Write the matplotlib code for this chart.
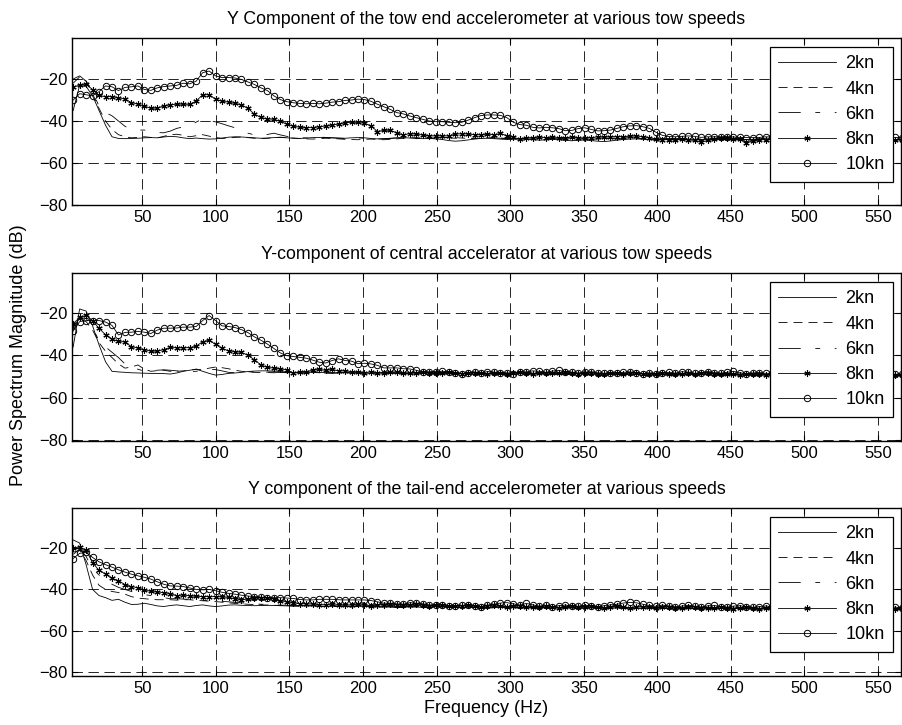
import numpy as np
import matplotlib
matplotlib.use("Agg")
import matplotlib.pyplot as plt

plt.rcParams['font.family'] = ['Liberation Sans', 'DejaVu Sans']
plt.rcParams['font.size'] = 12

# frequency bins (Hz), spacing
freq = 3.0 + 4.4 * np.arange(129)

# --- tow end accelerometer (dB) ---
tow_2kn = [
    -35, -23, -23.5, -28, -35, -42, -47.5, -48.3, -48.4, -48.3,
    -48.2, -48, -47.9, -48, -47.6, -47.3, -47.5, -48, -48.4, -48.1,
    -48.4, -48.6, -48.5, -48.1, -47.7, -47.5, -47.6, -47.8, -48, -48.2,
    -48.1, -47.9, -47.8, -48, -48.2, -48.3, -48.1, -47.9, -47.8, -47.9,
    -48, -48.1, -48.2, -48, -47.9, -48, -48.3, -48.5, -48.4, -48.2,
    -48, -47.9, -48.1, -48.3, -48.4, -48.3, -48.5, -48.8, -49.3, -49.6,
    -49.4, -49, -48.6, -48.3, -48.2, -48.4, -48.6, -48.8, -48.7, -48.5,
    -48.6, -48.9, -49.1, -49, -48.8, -48.9, -49.2, -49.4, -49.2, -49,
    -49.3, -49.6, -49.8, -49.5, -49.1, -48.8, -48.6, -48.5, -48.7, -48.9,
    -49, -48.8, -48.6, -48.5, -48.7, -48.9, -49, -48.8, -48.5, -48.3,
    -48.2, -48.4, -48.6, -48.8, -48.9, -48.7, -48.5, -48.4, -48.6, -48.8,
    -48.9, -48.7, -48.5, -48.6, -48.8, -49, -48.9, -48.7, -48.6, -48.8,
    -49, -48.9, -48.7, -48.6, -48.8, -49, -48.9, -48.8, -48.7]
tow_4kn = [
    -22, -19, -21, -27, -34, -40, -44, -46.5, -47.5, -48,
    -47.8, -47.5, -47.8, -48, -47.3, -46.5, -46.3, -46.8, -47.5, -47,
    -46.5, -47.2, -47.8, -48.3, -48.1, -47.8, -47.6, -47.9, -48.2, -48.4,
    -48.2, -47.9, -47.7, -47.9, -48.1, -48.3, -48.5, -48.6, -48.4, -48.2,
    -48.3, -48.5, -48.7, -48.8, -48.9, -48.7, -48.6, -48.8, -48.9, -48.7,
    -48.5, -48.2, -48, -47.9, -48.1, -48.3, -48.2, -48, -47.8, -47.9,
    -48.1, -48.3, -48.4, -48.2, -48, -47.9, -48.1, -48.3, -48.5, -48.6,
    -48.4, -48.2, -48.1, -48.3, -48.5, -48.4, -48.2, -48, -48.1, -48.3,
    -48.5, -48.6, -48.4, -48.2, -48, -47.9, -48.1, -48.3, -48.4, -48.6,
    -48.8, -48.9, -48.7, -48.5, -48.4, -48.6, -48.8, -49, -48.8, -48.6,
    -48.5, -48.7, -48.9, -49, -48.8, -48.6, -48.5, -48.7, -48.9, -49,
    -48.8, -48.6, -48.7, -48.9, -49.1, -48.9, -48.7, -48.6, -48.8, -49,
    -48.9, -48.7, -48.6, -48.8, -49, -48.9, -48.7, -48.8, -48.9]
tow_6kn = [
    -20, -18.5, -21, -26, -33, -36, -37.5, -40, -42.5, -44,
    -44.3, -44.3, -44.8, -45.5, -45.6, -44.8, -43.5, -42.8, -42.2, -40.5,
    -39, -39.8, -40.4, -41.3, -42.3, -43.2, -44.5, -45.8, -46.6, -47.1,
    -46.4, -45.8, -46.6, -47.3, -47.6, -47.9, -48.1, -47.9, -47.7, -47.8,
    -48, -48.2, -48.3, -48.1, -48, -48.2, -48.4, -48.6, -48.5, -48.3,
    -48.1, -48, -48.2, -48.4, -48.3, -48.1, -47.9, -47.8, -48, -48.2,
    -48.4, -48.3, -48.1, -47.9, -47.8, -48, -48.2, -48.4, -48.3, -48.1,
    -48, -48.2, -48.4, -48.5, -48.3, -48.1, -48, -48.2, -48.4, -48.5,
    -48.3, -48.1, -48.2, -48.4, -48.6, -48.5, -48.3, -48.2, -48.4, -48.6,
    -48.7, -48.5, -48.3, -48.4, -48.6, -48.8, -48.7, -48.5, -48.4, -48.6,
    -48.8, -48.9, -48.7, -48.5, -48.6, -48.8, -49, -48.8, -48.6, -48.7,
    -48.9, -49, -48.8, -48.6, -48.7, -48.9, -49, -48.8, -48.7, -48.9,
    -49, -48.8, -48.7, -48.9, -49, -48.8, -48.7, -48.9, -49]
tow_8kn = [
    -24, -22.8, -22.5, -25, -27.8, -28.4, -28.4, -28.9, -29.6, -31.2,
    -32, -32.8, -34, -33.8, -32.8, -32.3, -32, -32, -32.1, -30.5,
    -27.5, -27.5, -29.6, -30.6, -31, -31.6, -32.2, -34, -36.7, -38.3,
    -39, -39.2, -40.2, -41.4, -42.4, -43, -43.2, -43.1, -42.7, -42.4,
    -41.9, -41.5, -40.9, -40.6, -40.7, -41, -42.3, -45, -44.4, -44.5,
    -45.6, -46.6, -46, -46.3, -46.7, -47.1, -47.1, -47.1, -47.1, -46.2,
    -46.1, -46.2, -46.5, -46.6, -46.3, -46.6, -45.9, -47, -47.8, -48.6,
    -48.2, -47.9, -47.6, -48, -47.8, -48.1, -47.9, -47.7, -48, -48.2,
    -47.9, -47.6, -47.8, -47.5, -47.4, -47.5, -47.3, -47.1, -47.6, -47.9,
    -48.6, -49, -48.8, -49.1, -48.7, -49, -49.2, -50.2, -49.2, -48.5,
    -48.3, -48.2, -48.6, -48.7, -50.4, -49.3, -49, -48.8, -48.9, -49.1,
    -49, -48.8, -49, -49.2, -49.1, -48.9, -49, -49.2, -49.1, -48.9,
    -49, -49.2, -49.1, -48.9, -49, -49.1, -49, -48.9, -49]
tow_10kn = [
    -30, -27, -27.5, -28, -26, -23.3, -23.7, -25.5, -24, -23.7,
    -23.3, -25, -25.4, -24.2, -23.6, -23.3, -23, -22, -22.3, -21,
    -17, -16.2, -18.5, -19.3, -19.3, -19.5, -20.2, -21.4, -22.6, -24.2,
    -25.5, -28, -29.8, -30.8, -31.3, -31.6, -31.8, -31.6, -31.8, -31.5,
    -31, -30.8, -30.2, -30, -29.6, -29.8, -30.6, -32, -33.2, -34.5,
    -36, -36.6, -37.6, -38.4, -39.2, -40, -40.3, -40.3, -40.6, -40.8,
    -40.6, -39.6, -38.4, -37.4, -37.1, -37.1, -37.3, -38.4, -40.6, -41.7,
    -42, -43, -43.3, -43, -43.2, -43.6, -44.6, -44.5, -43.6, -43.2,
    -44, -44.7, -44.6, -44.3, -43.5, -42.7, -42.3, -42.2, -42.7, -43.5,
    -45.3, -46.8, -47.4, -47.5, -47.3, -47.1, -47.3, -47.8, -47.5, -47.5,
    -47.5, -47.4, -47.6, -47.8, -47.9, -47.9, -47.8, -47.5, -47.7, -47.9,
    -48, -47.8, -47.7, -47.9, -48.1, -48, -47.8, -47.9, -48.1, -48,
    -47.8, -47.9, -48.1, -48, -47.8, -47.9, -48, -47.8, -47.9]

# --- central accelerometer (dB) ---
mid_2kn = [
    -36, -18, -19, -26, -35, -43, -47.5, -47.8, -48, -48.2,
    -48.3, -48.4, -48.5, -48.5, -48.6, -48.8, -48.3, -47.5, -47, -46.5,
    -47.5, -48.5, -49.3, -49, -48.5, -48.3, -48, -47.6, -47.4, -47.3,
    -47.3, -47.4, -47.6, -48, -48.2, -48.3, -48.1, -47.9, -48, -48.2,
    -48.4, -48.3, -48.1, -48, -48.2, -48.4, -48.5, -48.3, -48.1, -48.2,
    -48.4, -48.6, -48.5, -48.3, -48.2, -48.4, -48.6, -48.7, -48.5, -48.3,
    -48.4, -48.6, -48.8, -48.7, -48.5, -48.4, -48.6, -48.8, -48.9, -48.7,
    -48.5, -48.4, -48.6, -48.8, -48.7, -48.5, -48.3, -48.4, -48.6, -48.8,
    -48.9, -48.7, -48.5, -48.6, -48.8, -49, -48.9, -48.7, -48.6, -48.8,
    -49, -49.1, -48.9, -48.7, -48.8, -49, -49.1, -48.9, -48.7, -48.8,
    -49, -49.2, -49, -48.8, -48.9, -49.1, -49.2, -49, -48.8, -48.9,
    -49.1, -49.2, -49, -48.9, -49.1, -49.3, -49.2, -49, -48.9, -49.1,
    -49.3, -49.2, -49, -49.1, -49.3, -49.4, -49.2, -49.1, -49.2]
mid_4kn = [
    -28, -23, -24, -28, -34, -38, -41, -44, -46, -45.5,
    -44.5, -46.5, -47.5, -47.2, -47, -47.5, -47.5, -47.3, -47, -46.5,
    -46.8, -46, -45.5, -45.8, -46.3, -47, -47.5, -47.8, -48, -48.1,
    -47.9, -47.8, -48, -48.2, -48.1, -47.9, -47.8, -48, -48.2, -48.3,
    -48.1, -48, -48.2, -48.4, -48.3, -48.1, -48.2, -48.4, -48.5, -48.3,
    -48.2, -48.4, -48.6, -48.5, -48.3, -48.4, -48.6, -48.7, -48.5, -48.4,
    -48.6, -48.8, -48.7, -48.5, -48.4, -48.6, -48.8, -48.9, -48.7, -48.6,
    -48.8, -48.9, -48.7, -48.5, -48.6, -48.8, -49, -48.8, -48.6, -48.7,
    -48.9, -49, -48.8, -48.7, -48.9, -49.1, -49, -48.8, -48.7, -48.9,
    -49.1, -49, -48.8, -48.9, -49.1, -49.2, -49, -48.9, -49, -49.2,
    -49.3, -49.1, -48.9, -49, -49.2, -49.3, -49.1, -49, -49.1, -49.3,
    -49.4, -49.2, -49, -49.1, -49.3, -49.4, -49.2, -49.1, -49.2, -49.4,
    -49.3, -49.1, -49.2, -49.4, -49.5, -49.3, -49.2, -49.3, -49.4]
mid_6kn = [
    -27, -22, -22.5, -27, -33, -36, -38.5, -41, -44, -46,
    -46.5, -47.5, -47.2, -47, -46.8, -47, -47.3, -47.5, -47.6, -47.5,
    -47, -46.5, -46.7, -47.3, -48, -48.2, -48, -47.8, -47.7, -47.9,
    -48.1, -48.2, -48, -47.9, -48.1, -48.3, -48.2, -48, -48.1, -48.3,
    -48.4, -48.2, -48.1, -48.3, -48.5, -48.4, -48.2, -48.3, -48.5, -48.6,
    -48.4, -48.3, -48.5, -48.7, -48.6, -48.4, -48.5, -48.7, -48.8, -48.6,
    -48.5, -48.7, -48.9, -48.8, -48.6, -48.7, -48.9, -49, -48.8, -48.7,
    -48.9, -49, -48.8, -48.7, -48.9, -49.1, -49, -48.8, -48.9, -49.1,
    -49.2, -49, -48.9, -49.1, -49.2, -49, -48.9, -49.1, -49.3, -49.1,
    -49, -49.2, -49.3, -49.1, -49, -49.2, -49.4, -49.2, -49.1, -49.3,
    -49.4, -49.2, -49.1, -49.3, -49.5, -49.3, -49.2, -49.4, -49.5, -49.3,
    -49.2, -49.4, -49.5, -49.3, -49.2, -49.4, -49.6, -49.4, -49.3, -49.5,
    -49.6, -49.4, -49.3, -49.5, -49.6, -49.4, -49.3, -49.5, -49.6]
mid_8kn = [
    -25, -22, -21, -23.5, -27.2, -30.2, -32.3, -33.3, -33.7, -35.8,
    -36.5, -37.2, -38, -38, -37.2, -36.2, -36.4, -36.4, -36.3, -35.6,
    -33.5, -32.8, -34.8, -36.7, -37.8, -38.2, -38.6, -39.9, -42, -44.5,
    -45.6, -46, -46.4, -46.8, -48.3, -47.9, -47.6, -47, -46.5, -47.1,
    -46.5, -47.4, -47.3, -47.7, -47.9, -48.2, -47.8, -48.1, -48.3, -48,
    -47.9, -48.2, -48.4, -48.1, -47.9, -48.3, -48.5, -48.2, -48, -48.3,
    -48.6, -48.4, -48.1, -48.5, -48.8, -48.4, -48.2, -48.6, -48.3, -48,
    -48.4, -48.7, -48.3, -48.1, -48.5, -48.2, -47.9, -48.4, -48.7, -48.5,
    -48.2, -48.6, -48.9, -48.5, -48.3, -48.7, -48.4, -48.2, -48.6, -48.9,
    -48.6, -48.3, -48.7, -49, -48.6, -48.4, -48.8, -48.5, -48.3, -48.7,
    -49, -48.7, -48.9, -49.2, -48.8, -48.6, -49, -49.3, -48.9, -48.7,
    -49.1, -49.3, -49, -48.8, -49.2, -49.4, -49.1, -48.9, -49.2, -49.5,
    -49.2, -49, -49.3, -49.5, -49.1, -49.3, -49.6, -49.2, -49.4]
mid_10kn = [
    -28.5, -24, -23.5, -23.5, -23.5, -24.2, -25.8, -30.3, -29.1, -29,
    -28.6, -29, -29.6, -28, -27.1, -27.1, -27, -26.6, -26.6, -26.3,
    -23.5, -21.1, -23.5, -26, -26.3, -26.8, -27.8, -29.2, -31.2, -32.8,
    -34.6, -36.7, -38.8, -40.1, -40.5, -40.9, -41.3, -42.2, -43.2, -43.6,
    -42.4, -41.6, -42.4, -42.7, -43.9, -43.7, -44, -44.7, -45.9, -45.9,
    -45.9, -46.3, -46.4, -47, -47.9, -47.7, -47.6, -47.5, -47.9, -48.3,
    -48.7, -48.1, -47.8, -48.4, -47.6, -47.9, -48.5, -48.2, -48.6, -48,
    -47.8, -47.3, -47.5, -48, -47.4, -47.1, -47.6, -47.9, -48.3, -48,
    -47.7, -48.2, -48.5, -48.1, -48.4, -48, -47.8, -48.3, -48.6, -48.2,
    -48.7, -48.3, -48, -48.4, -47.7, -47.9, -48.5, -48.2, -47.6, -48.1,
    -48.4, -48, -47.5, -48.2, -48.6, -48.3, -48.1, -48.5, -48.4, -48.2,
    -48.5, -48.1, -48.4, -48.6, -48.3, -48.5, -48.7, -48.4, -48.6, -48.8,
    -48.5, -48.7, -48.9, -48.6, -48.8, -49, -48.7, -48.9, -49]

# --- tail-end accelerometer (dB) ---
tail_2kn = [
    -16, -17.5, -28, -40, -43, -44, -45.3, -44.8, -46.2, -47.3,
    -47.2, -46.7, -47.3, -48, -48.3, -47.8, -47.5, -47.9, -48.3, -47.8,
    -47.5, -48, -48.3, -48, -47.6, -47.5, -47.7, -47.8, -47.9, -47.8,
    -47.7, -47.8, -47.9, -48, -48.1, -48, -47.9, -48, -48.2, -48.3,
    -48.2, -48.1, -48.3, -48.4, -48.2, -48.1, -48.3, -48.5, -48.4, -48.6,
    -48.8, -48.6, -48.4, -48.5, -48.7, -48.6, -48.4, -48.3, -48.5, -48.7,
    -48.8, -48.6, -48.5, -48.7, -48.9, -48.8, -48.6, -48.5, -48.7, -48.9,
    -48.8, -48.6, -48.7, -48.9, -49, -48.8, -48.7, -48.9, -49.1, -49,
    -48.8, -48.7, -48.9, -49.1, -49, -48.8, -48.9, -49.1, -49.2, -49,
    -48.9, -49.1, -49.2, -49, -48.9, -49.1, -49.3, -49.1, -49, -49.2,
    -49.3, -49.1, -49, -49.2, -49.4, -49.2, -49.1, -49.3, -49.4, -49.2,
    -49.1, -49.3, -49.4, -49.2, -49.1, -49.3, -49.5, -49.3, -49.2, -49.4,
    -49.5, -49.3, -49.2, -49.4, -49.5, -49.3, -49.2, -49.4, -49.5]
tail_4kn = [
    -22, -21, -26, -33, -38, -40, -41, -41.5, -42.3, -43.5,
    -44.2, -44.5, -44.8, -45, -45, -45, -45.2, -45, -45, -45.3,
    -45.5, -45.7, -45.9, -46.2, -46.5, -46.8, -47, -47.2, -47.3, -47.5,
    -47.6, -47.7, -47.8, -47.9, -48, -48.1, -48, -47.9, -48.1, -48.2,
    -48.3, -48.2, -48.4, -48.5, -48.3, -48.2, -48.4, -48.6, -48.5, -48.3,
    -48.5, -48.7, -48.6, -48.4, -48.5, -48.7, -48.8, -48.6, -48.5, -48.7,
    -48.9, -48.8, -48.6, -48.7, -48.9, -49, -48.8, -48.7, -48.9, -49.1,
    -48.9, -48.8, -49, -49.1, -48.9, -48.8, -49, -49.2, -49.1, -48.9,
    -49, -49.2, -49.3, -49.1, -49, -49.2, -49.3, -49.1, -49, -49.2,
    -49.4, -49.2, -49.1, -49.3, -49.4, -49.2, -49.1, -49.3, -49.5, -49.3,
    -49.2, -49.4, -49.5, -49.3, -49.2, -49.4, -49.6, -49.4, -49.3, -49.5,
    -49.6, -49.4, -49.3, -49.5, -49.6, -49.4, -49.3, -49.5, -49.7, -49.5,
    -49.4, -49.6, -49.7, -49.5, -49.4, -49.6, -49.7, -49.5, -49.6]
tail_6kn = [
    -23, -20.5, -24, -30, -33, -35.5, -37.5, -39, -40, -41,
    -42, -42.5, -43, -43.5, -44, -44.5, -44.5, -44.7, -44.8, -45,
    -45.2, -45.5, -45.5, -45.8, -46, -46.3, -46.5, -46.8, -47, -47.2,
    -47.3, -47.4, -47.6, -47.7, -47.8, -47.9, -48, -48.1, -48, -47.9,
    -48, -48.2, -48.3, -48.1, -48, -48.2, -48.4, -48.3, -48.1, -48.2,
    -48.4, -48.5, -48.3, -48.2, -48.4, -48.6, -48.5, -48.3, -48.4, -48.6,
    -48.7, -48.5, -48.4, -48.6, -48.8, -48.7, -48.5, -48.6, -48.8, -48.9,
    -48.7, -48.6, -48.8, -49, -48.9, -48.7, -48.8, -49, -49.1, -48.9,
    -48.8, -49, -49.2, -49.1, -48.9, -49, -49.2, -49.3, -49.1, -49,
    -49.2, -49.3, -49.1, -49, -49.2, -49.4, -49.3, -49.1, -49.2, -49.4,
    -49.5, -49.3, -49.2, -49.4, -49.5, -49.3, -49.2, -49.4, -49.6, -49.5,
    -49.3, -49.4, -49.6, -49.5, -49.3, -49.4, -49.6, -49.7, -49.5, -49.4,
    -49.6, -49.7, -49.5, -49.4, -49.6, -49.7, -49.5, -49.6, -49.7]
tail_8kn = [
    -19.8, -19.5, -21, -27, -30.8, -32.5, -34.7, -35.7, -37.7, -38.6,
    -39.2, -40.2, -41, -41.2, -41.6, -42, -43, -42.7, -43.1, -43.4,
    -43.5, -43.5, -43.5, -43.7, -43.9, -44.5, -45, -44.7, -44.3, -44,
    -44.2, -44.6, -45.4, -46.1, -46.5, -47, -47, -47.2, -47.4, -47.5,
    -47.3, -47.6, -47.8, -47.5, -47.3, -47.7, -47.9, -47.6, -47.4, -47.2,
    -47.5, -47.8, -47.6, -47.3, -47.7, -48, -47.8, -47.5, -47.9, -48.2,
    -47.9, -47.6, -48, -48.3, -48.1, -47.8, -48.2, -48.5, -48.2, -47.9,
    -48.3, -48.6, -48.4, -48.1, -48.5, -48.8, -48.4, -48.2, -48.6, -48.3,
    -48.1, -48.5, -48.8, -48.5, -48.2, -48.6, -48.9, -48.5, -48.3, -48.7,
    -49, -48.6, -48.4, -48.8, -49.1, -48.7, -48.5, -48.9, -49.2, -48.8,
    -48.6, -49, -49.3, -48.9, -48.7, -49.1, -49.4, -49, -48.8, -49.2,
    -49.4, -49, -48.9, -49.3, -49.5, -49.1, -48.9, -49.3, -49.6, -49.2,
    -49, -49.4, -49.6, -49.2, -49.1, -49.5, -49.7, -49.3, -49.2]
tail_10kn = [
    -25, -22.5, -22, -24.5, -26.6, -28, -29.2, -30.5, -31.6, -32.6,
    -33.4, -34.1, -35, -36.3, -37.5, -38.3, -38.4, -38.6, -39.3, -40,
    -40.2, -40, -40.6, -41.4, -41.9, -42.3, -42.8, -43.2, -43.5, -43.8,
    -44, -44, -44, -44.2, -44.4, -44.9, -45.1, -45.1, -44.8, -44.8,
    -44.8, -45, -45.1, -45.1, -45.1, -45.1, -45.4, -46, -46.7, -46.7,
    -47, -47.2, -46.4, -46.7, -47, -47.5, -47.8, -47.5, -47.9, -48.2,
    -47.8, -47.5, -48, -48.3, -47.6, -47.2, -46.6, -46.4, -47, -47.6,
    -46.8, -47.5, -48.1, -47.8, -48.3, -47.9, -47.6, -48, -48.2, -47.7,
    -48.1, -48.4, -47.9, -47.5, -47.2, -46.6, -46.3, -46.5, -47.2, -47.8,
    -48.2, -47.6, -48, -48.4, -48.1, -47.7, -48.2, -48.5, -48, -47.8,
    -48.3, -48.6, -48.1, -47.9, -48.4, -48.7, -48.3, -48, -48.5, -48.8,
    -48.4, -48.1, -48.6, -48.9, -48.5, -48.3, -48.7, -49, -48.6, -48.4,
    -48.8, -49.1, -48.7, -48.5, -48.9, -49.2, -48.8, -48.6, -48.9]

speeds = ["2kn", "4kn", "6kn", "8kn", "10kn"]
titles = ["Y Component of the tow end accelerometer at various tow speeds",
          "Y-component of central accelerator at various tow speeds",
          "Y component of the tail-end accelerometer at various speeds"]
panels = [[tow_2kn, tow_4kn, tow_6kn, tow_8kn, tow_10kn],
          [mid_2kn, mid_4kn, mid_6kn, mid_8kn, mid_10kn],
          [tail_2kn, tail_4kn, tail_6kn, tail_8kn, tail_10kn]]
ylims = [(-80, -0.5), (-80.5, -1), (-82, -0.5)]

plt.rcParams['lines.scale_dashes'] = False
styles = [dict(ls='-'),
          dict(ls=(0, (6.5, 4.3))),
          dict(ls=(0, (16, 10.5, 3.5, 10.5))),
          dict(ls='-', marker=(6, 2, 0), ms=4.5, mew=0.8),
          dict(ls='-', marker='o', ms=4.6, mfc='none', mew=0.7)]

fig = plt.figure(figsize=(9.02, 7.25), dpi=100)
boxes = [[0.0798, 0.7172, 0.919, 0.2303],
         [0.0798, 0.3917, 0.919, 0.2317],
         [0.0798, 0.0676, 0.919, 0.2317]]

for i, box in enumerate(boxes):
    ax = fig.add_axes(box)
    for vals, lab, st in zip(panels[i], speeds, styles):
        ax.plot(freq, vals, color='k', lw=0.6, label=lab, **st)
    ax.set_xlim(2.2, 565.6)
    ax.set_ylim(*ylims[i])
    ax.set_xticks(range(50, 551, 50))
    ax.set_yticks([-80, -60, -40, -20])
    ax.grid(True, color='k', lw=0.6, ls=(0, (7.5, 4)))
    ax.tick_params(direction='in', top=True, right=True, length=4, labelsize=12)
    for s in ax.spines.values():
        s.set_linewidth(1.0)
    ax.set_title(titles[i], fontsize=12.8, pad=10)
    leg = ax.legend(loc='upper right', bbox_to_anchor=(0.990, 0.946),
                    borderaxespad=0, fancybox=False, framealpha=1,
                    edgecolor='k', handlelength=3.2, labelspacing=0.46,
                    handletextpad=0.5, borderpad=0.45, fontsize=13)
    leg.get_frame().set_linewidth(0.9)
    if i == 2:
        ax.set_xlabel("Frequency (Hz)", fontsize=13, labelpad=3)

fig.text(0.02, 0.51, "Power Spectrum Magnitude (dB)", rotation=90,
         ha='center', va='center', fontsize=13)

fig.savefig("out.png", dpi=100)
